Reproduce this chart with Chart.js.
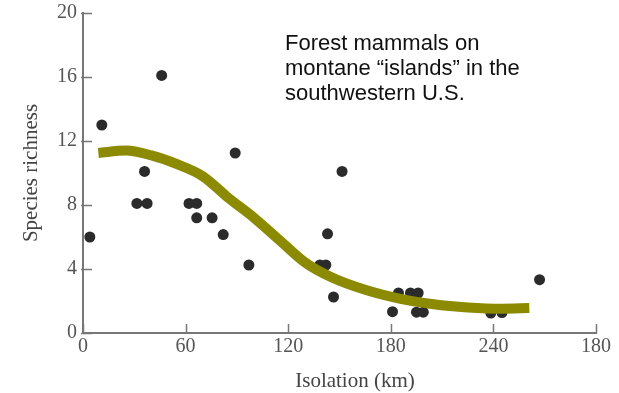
<!doctype html>
<html><head><meta charset="utf-8">
<title>Species richness vs isolation</title>
<script src="https://cdn.jsdelivr.net/npm/chart.js"></script>
<style>
  html, body { margin: 0; padding: 0; background: #fff; }
  .wrap { position: relative; width: 619px; height: 393px; }
  .wrap canvas { display: block; }
  .note { position: absolute; left: 285px; top: 30px; font: 22px/25px "Liberation Sans", Arial, sans-serif; color: #111; white-space: nowrap; }
  .xtitle { position: absolute; left: 255px; width: 200px; top: 368px; text-align: center; font: 21px/24px "Liberation Serif", serif; color: #444; }
</style>
</head><body>
<div class="wrap">
  <canvas id="c"></canvas>
  <div class="note">Forest mammals on<br>montane “islands” in the<br>southwestern U.S.</div>
  <div class="xtitle">Isolation (km)</div>
</div>
<script>
// islands: isolation (km) and species count
const isolationKm = [4, 11, 46, 36, 31.5, 37.5, 62, 66.5, 66.5, 75.5, 89, 82, 97, 138.5, 142, 143, 151.5, 146.5, 181, 184.5, 191.5, 196, 195, 199, 238.5, 245, 267];
const richness    = [6, 13, 16.1, 10.1, 8.1, 8.1, 8.1, 8.1, 7.2, 7.2, 11.25, 6.15, 4.25, 4.25, 4.25, 6.2, 10.1, 2.25, 1.33, 2.5, 2.5, 2.5, 1.3, 1.3, 1.25, 1.28, 3.33];

// fitted trend curve
const curveKm   = [9, 25, 40, 55, 70, 85, 100, 115, 130, 145, 165, 185, 205, 225, 245, 261];
const curveRich = [11.25, 11.4, 11.1, 10.55, 9.8, 8.45, 7.2, 5.8, 4.4, 3.5, 2.7, 2.15, 1.8, 1.6, 1.52, 1.56];

const xTickValues = [0, 60, 120, 180, 240, 300];
const xTickLabels = ['0', '60', '120', '180', '240', '180'];
const yTickValues = [0, 4, 8, 12, 16, 20];

const axisGray = '#777';
const labelGray = '#555';
const serif = "'Liberation Serif', 'Times New Roman', serif";

const toXY = (xs, ys) => xs.map((x, i) => ({ x, y: ys[i] }));

// short tick marks pointing into the plot
const innerTicks = {
  id: 'innerTicks',
  afterDraw(chart) {
    const { ctx, scales: { x, y } } = chart;
    const len = 9;
    ctx.save();
    ctx.strokeStyle = axisGray;
    ctx.lineWidth = 1.5;
    ctx.beginPath();
    xTickValues.forEach(v => {
      const px = Math.round(x.getPixelForValue(v)) + 0.5;
      ctx.moveTo(px, y.bottom);
      ctx.lineTo(px, y.bottom - len);
    });
    yTickValues.forEach(v => {
      const py = Math.round(y.getPixelForValue(v)) + 0.5;
      ctx.moveTo(x.left - 2, py);
      ctx.lineTo(x.left + len, py);
    });
    ctx.stroke();
    ctx.restore();
  }
};

new Chart(document.getElementById('c'), {
  type: 'scatter',
  data: {
    datasets: [
      {
        label: 'Trend',
        data: toXY(curveKm, curveRich),
        showLine: true,
        borderColor: '#8c8a00',
        borderWidth: 10,
        borderCapStyle: 'butt',
        pointRadius: 0,
        cubicInterpolationMode: 'monotone',
        clip: false
      },
      {
        label: 'Islands',
        data: toXY(isolationKm, richness),
        backgroundColor: '#2b2b2b',
        borderWidth: 0,
        pointRadius: 5.5,
        clip: false
      }
    ]
  },
  options: {
    responsive: true,
    maintainAspectRatio: false,
    animation: false,
    layout: { padding: { top: 13, right: 23, left: 0, bottom: 0 } },
    plugins: { legend: { display: false }, tooltip: { enabled: false } },
    scales: {
      x: {
        type: 'linear',
        min: 0, max: 300,
        afterBuildTicks: s => { s.ticks = xTickValues.map(v => ({ value: v })); },
        afterFit: s => { s.height = 60; s.paddingLeft = 0; s.paddingRight = 0; },
        grid: { display: false, drawTicks: false },
        border: { color: axisGray, width: 2 },
        ticks: {
          padding: 2,
          color: labelGray,
          font: { family: serif, size: 20 },
          callback: (v) => xTickLabels[xTickValues.indexOf(v)]
        }
      },
      y: {
        type: 'linear',
        min: 0, max: 20,
        afterBuildTicks: s => { s.ticks = yTickValues.map(v => ({ value: v })); },
        afterFit: s => { s.width = 83; s.paddingTop = 0; s.paddingBottom = 0; },
        grid: { display: false, drawTicks: false },
        border: { color: axisGray, width: 2 },
        ticks: {
          padding: 6,
          color: labelGray,
          font: { family: serif, size: 20 }
        },
        title: {
          display: true,
          text: 'Species richness',
          color: '#444',
          font: { family: serif, size: 21 },
          padding: { top: 19, bottom: 0 }
        }
      }
    }
  },
  plugins: [innerTicks]
});
</script>
</body></html>
